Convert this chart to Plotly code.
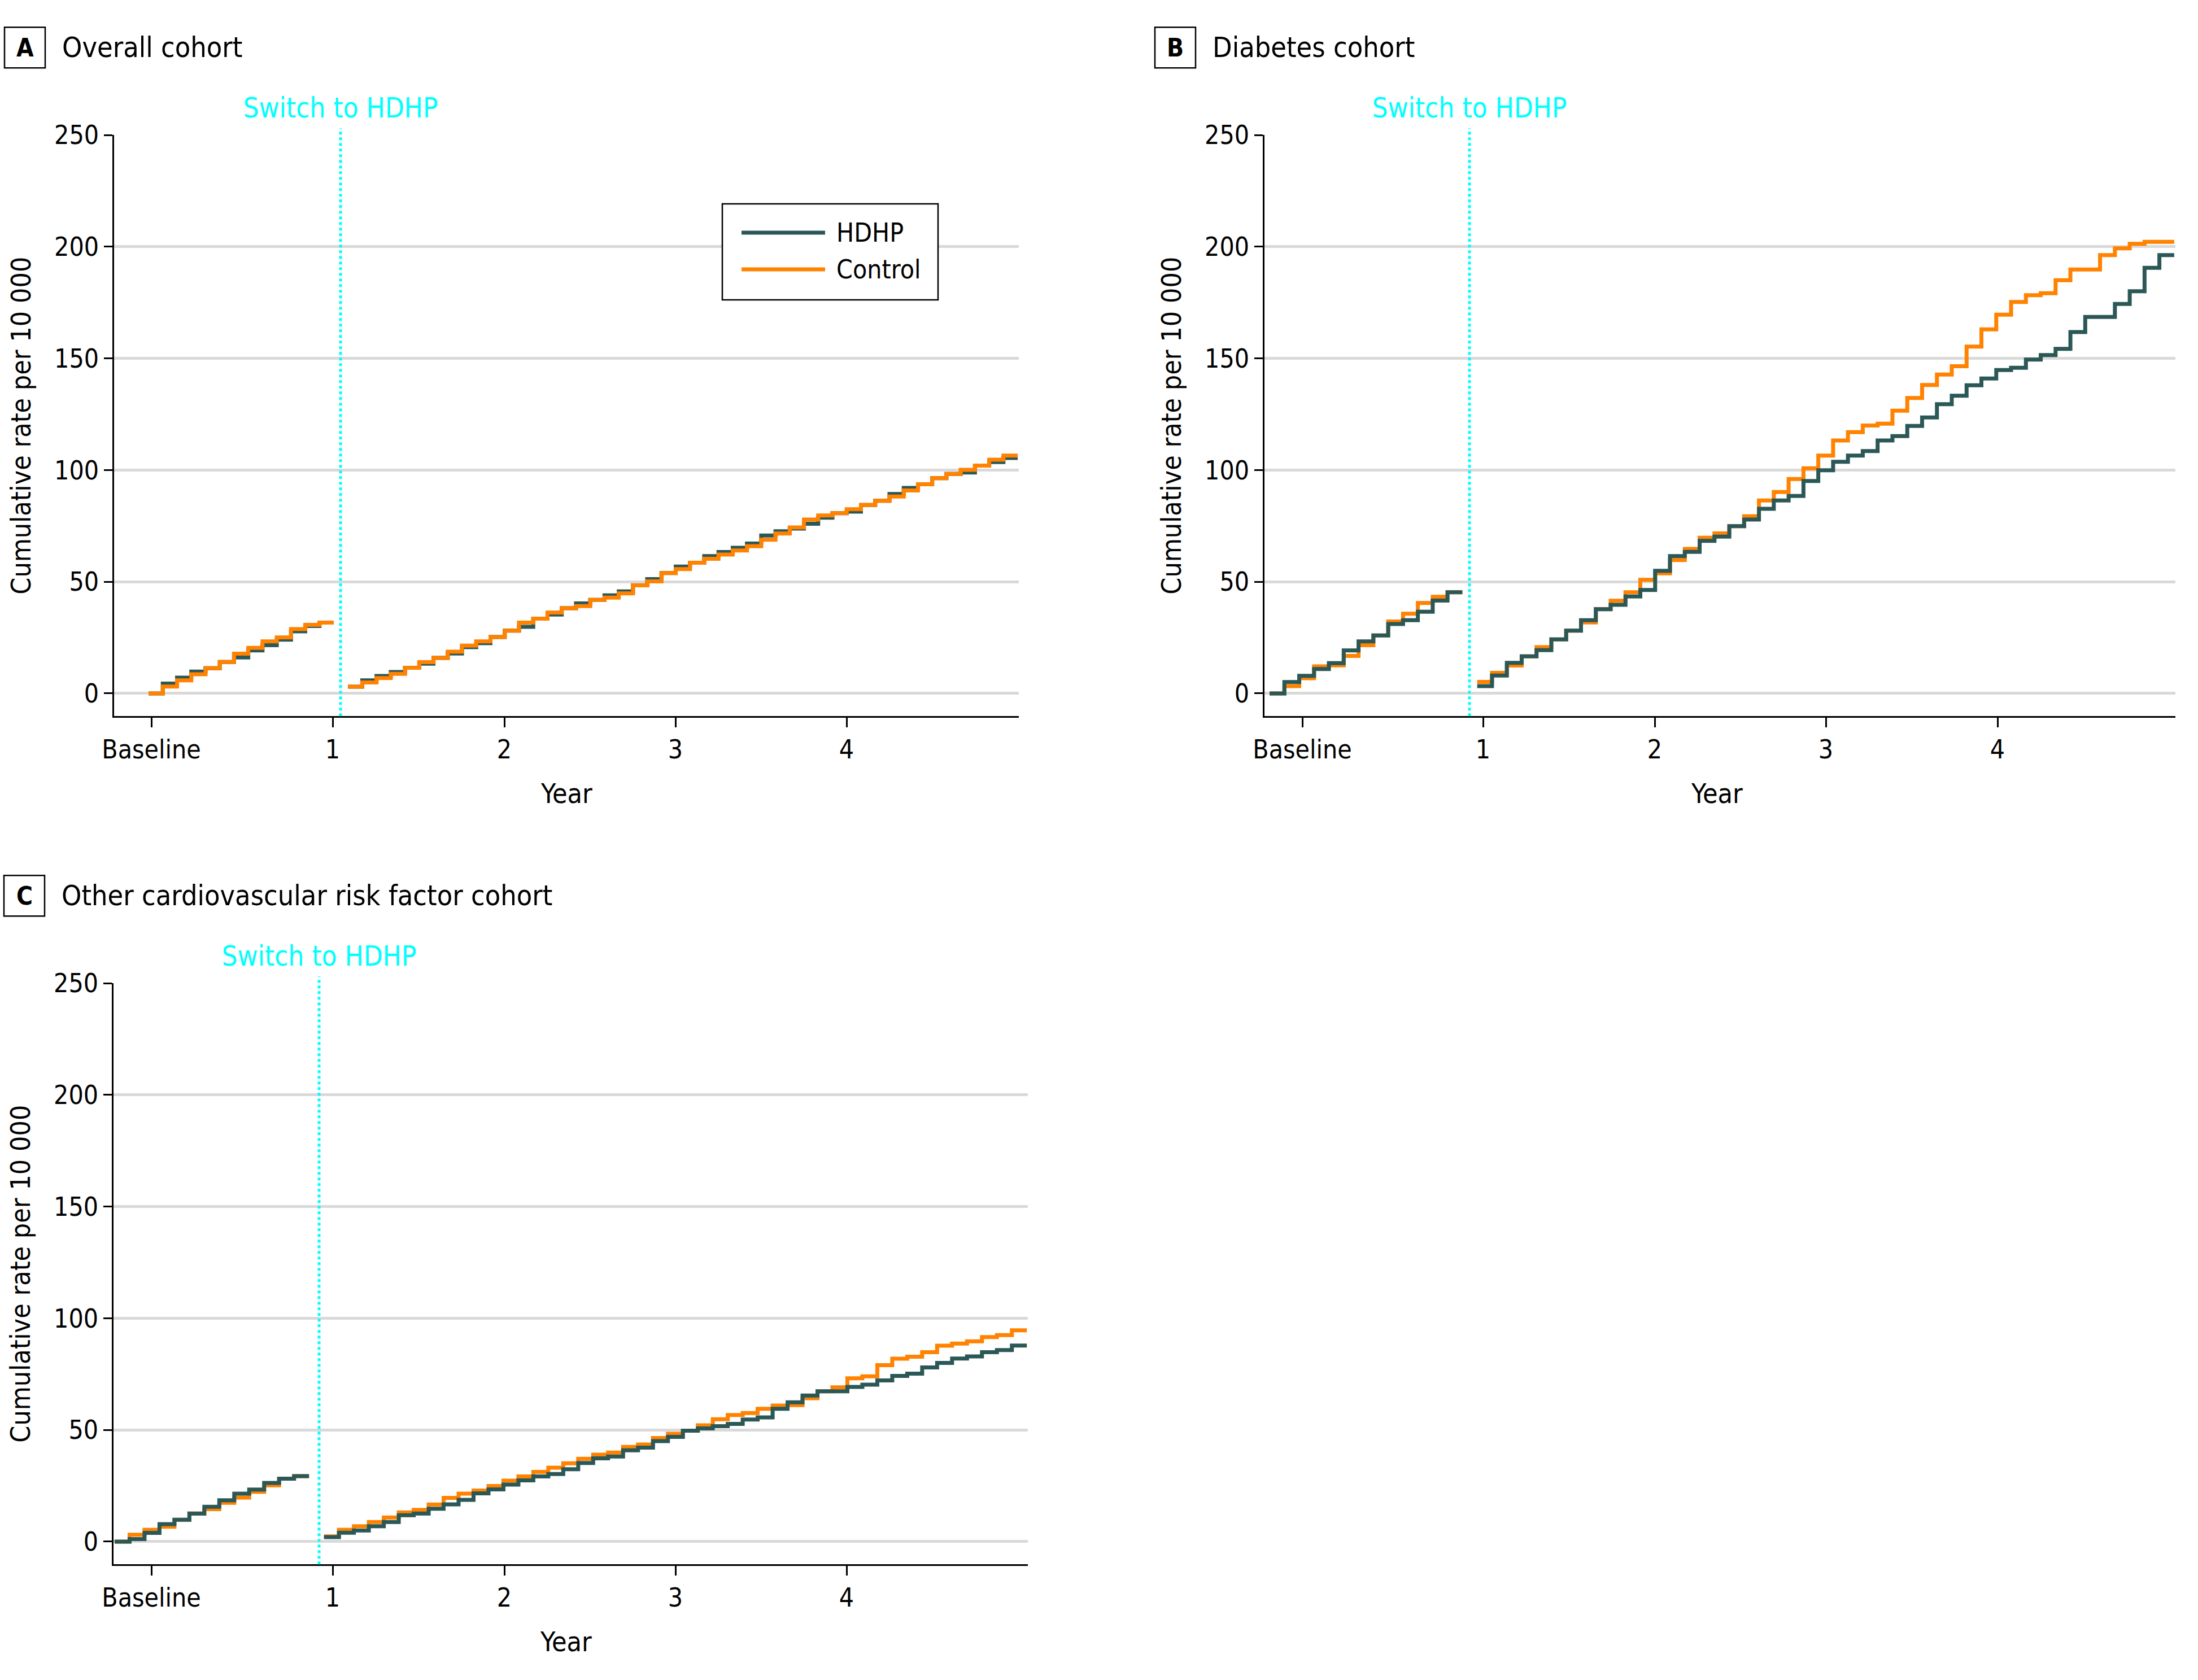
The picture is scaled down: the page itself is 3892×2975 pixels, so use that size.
import plotly.graph_objects as go

W, H = 3892, 2975
FONT = "Liberation Sans Narrow, DejaVu Sans Condensed, Liberation Sans, sans-serif"
DARK = "#2b5856"
ORANGE = "#ff8200"
CYAN = "#00ffff"
GRID = "#d9d9d9"

# step edges in months: baseline year, then follow-up after the switch
pre_months = list(range(-13, 1))
post_months = list(range(1, 49))

tick_labels = ["Baseline", "1", "2", "3", "4"]
y_ticks = [0, 50, 100, 150, 200, 250]

# A: overall cohort (cumulative rate per 10 000, one value per monthly step)
a_hdhp_pre = [0, 4.4, 7.1, 9.8, 11.3, 14.1, 16.1, 19.3, 21.6, 24.1, 27.8, 30.2, 31.7]
a_ctrl_pre = [0, 3.1, 5.9, 8.6, 11.3, 14.1, 17.8, 20.4, 23.3, 25.1, 28.8, 30.7, 31.7]
a_hdhp_post = [3.0, 5.9, 7.8, 9.6, 11.5, 13.3, 15.9, 17.9, 20.7, 22.5, 25.3, 28.1, 29.8, 33.5,
               35.3, 38.2, 40.3, 41.9, 43.9, 45.7, 48.4, 51.2, 53.9, 56.8, 58.5, 61.5, 63.3,
               65.2, 67.1, 70.7, 72.6, 73.8, 76.0, 78.7, 80.7, 81.4, 84.4, 86.3, 89.3, 92.0,
               93.7, 96.4, 98.3, 98.9, 102.0, 103.6, 105.4]
a_ctrl_post = [3.0, 4.9, 6.9, 8.8, 11.5, 14.0, 15.9, 18.7, 21.4, 23.3, 25.3, 28.1, 31.7, 33.5,
               36.2, 38.2, 39.1, 41.9, 42.9, 44.8, 48.4, 50.2, 53.9, 55.7, 58.5, 60.3, 62.2,
               64.0, 65.9, 68.8, 71.6, 74.3, 77.9, 79.7, 80.7, 82.5, 84.4, 86.3, 88.2, 90.9,
               93.7, 96.4, 98.3, 100.1, 102.0, 104.7, 106.5]

# B: diabetes cohort
b_hdhp_pre = [0, 5.1, 7.9, 10.9, 13.6, 19.3, 23.3, 26.0, 31.1, 32.8, 36.6, 41.6, 45.3]
b_ctrl_pre = [0, 3.3, 6.8, 12.1, 12.6, 16.8, 21.6, 26.0, 32.2, 35.7, 40.5, 43.3, 45.3]
b_hdhp_post = [3.3, 8.0, 13.7, 16.6, 19.4, 24.2, 28.1, 32.8, 37.7, 39.7, 43.4, 46.3, 54.9, 61.5,
               63.4, 68.3, 70.2, 74.9, 77.9, 82.7, 86.4, 88.4, 95.1, 99.9, 103.7, 106.5, 108.5,
               113.3, 115.2, 119.8, 123.6, 129.5, 133.3, 138.0, 141.0, 144.8, 145.8, 149.5,
               151.5, 154.3, 161.8, 168.6, 168.6, 174.4, 180.1, 190.6, 196.3]
b_ctrl_post = [5.2, 9.2, 12.5, 16.6, 20.7, 24.2, 28.1, 31.8, 37.7, 41.5, 45.3, 50.9, 53.8, 59.7,
               64.7, 69.7, 71.7, 74.9, 79.3, 86.4, 90.2, 96.0, 100.8, 106.5, 113.3, 117.0, 120.0,
               120.8, 126.6, 132.3, 138.1, 142.8, 146.5, 155.3, 163.0, 169.6, 175.3, 178.3,
               179.2, 185.0, 189.8, 189.8, 196.3, 199.3, 201.3, 202.2, 202.2]

# C: other cardiovascular risk factor cohort
c_hdhp_pre = [0, 1.1, 3.9, 7.8, 9.8, 12.6, 15.6, 18.5, 21.5, 23.3, 26.3, 28.2, 29.3]
c_ctrl_pre = [0, 3.1, 5.3, 6.7, 9.8, 12.6, 14.5, 17.4, 19.7, 22.3, 25.2, 28.2, 29.3]
c_hdhp_post = [2.0, 4.0, 5.0, 6.9, 8.8, 11.8, 12.6, 14.7, 16.7, 18.7, 21.6, 23.4, 25.5, 27.4,
               29.2, 30.3, 32.4, 35.2, 37.3, 38.1, 40.9, 42.1, 45.0, 46.9, 49.7, 50.7, 51.7,
               52.7, 54.7, 55.6, 59.5, 62.4, 65.4, 67.3, 67.3, 69.3, 70.3, 72.2, 74.2, 75.2,
               78.0, 80.0, 82.0, 82.9, 84.8, 85.8, 87.8]
c_ctrl_post = [2.3, 5.3, 6.9, 8.8, 10.8, 13.1, 14.2, 16.6, 19.6, 21.5, 22.9, 24.9, 27.3, 29.2,
               31.2, 33.1, 35.1, 37.1, 38.9, 39.9, 42.4, 43.5, 46.4, 48.3, 49.7, 52.1, 54.8,
               56.7, 57.6, 59.5, 60.9, 61.1, 64.2, 67.3, 69.1, 73.1, 74.0, 79.0, 81.9, 82.8,
               84.8, 87.7, 88.7, 89.7, 91.6, 92.5, 94.6]


def fx(x):
    return x / W


def fy(y):
    return 1 - y / H


def steps(values):
    # repeat last value so the final month gets its horizontal run
    return values + [values[-1]]


# pixel layout of each panel: plot box, month->pixel mapping, tick and switch positions
panels = [
    dict(letter="A", title="Overall cohort", ax="", box=(202, 1804, 239.25, 1268.3),
         p0=591, step=25.23, tick_px=[268, 589, 893, 1196, 1499], switch_px=603,
         series=[("HDHP", DARK, a_hdhp_pre, a_hdhp_post), ("Control", ORANGE, a_ctrl_pre, a_ctrl_post)]),
    dict(letter="B", title="Diabetes cohort", ax="2", box=(2239, 3852, 239.25, 1268.3),
         p0=2589.4, step=26.26, tick_px=[2306, 2626, 2930, 3233, 3537], switch_px=2602,
         series=[("Control", ORANGE, b_ctrl_pre, b_ctrl_post), ("HDHP", DARK, b_hdhp_pre, b_hdhp_post)]),
    dict(letter="C", title="Other cardiovascular risk factor cohort", ax="3", box=(201, 1820, 1741.25, 2770.3),
         p0=547.2, step=26.48, tick_px=[268, 589, 893, 1196, 1499], switch_px=565,
         series=[("Control", ORANGE, c_ctrl_pre, c_ctrl_post), ("HDHP", DARK, c_hdhp_pre, c_hdhp_post)]),
]

fig = go.Figure()
shapes = []
annotations = []
layout = {}

for p in panels:
    left, right, top, bottom = p["box"]
    to_m = lambda px, p=p: (px - p["p0"]) / p["step"]
    xname, yname = "x" + p["ax"], "y" + p["ax"]

    for name, color, pre, post in p["series"]:
        for xs, ys in ((pre_months, pre), (post_months, post)):
            fig.add_trace(go.Scatter(
                x=xs, y=steps(ys), mode="lines", line=dict(color=color, width=7, shape="hv"),
                name=name, showlegend=False, xaxis=xname, yaxis=yname, hoverinfo="skip"))

    layout["xaxis" + p["ax"]] = dict(
        domain=[fx(left), fx(right)], range=[to_m(left), to_m(right)], anchor=yname,
        tickvals=[to_m(t) for t in p["tick_px"]], ticktext=tick_labels,
        ticks="outside", ticklen=17, tickwidth=2.5, tickcolor="black",
        showline=True, linecolor="black", linewidth=2.5, showgrid=False, zeroline=False,
        automargin=False, tickfont=dict(size=46, color="black"))
    layout["yaxis" + p["ax"]] = dict(
        domain=[fy(bottom), fy(top)], range=[-10.2, 250], anchor=xname,
        tickvals=y_ticks, ticks="outside", ticklen=15, tickwidth=2.5, tickcolor="black",
        showline=True, linecolor="black", linewidth=2.5, showgrid=True, gridcolor=GRID,
        gridwidth=5, zeroline=False, automargin=False, tickfont=dict(size=46, color="black"))

    # switch marker
    sm = to_m(p["switch_px"])
    shapes.append(dict(type="line", xref=xname, yref="paper", x0=sm, x1=sm,
                       y0=fy(bottom), y1=fy(top - 12),
                       line=dict(color=CYAN, width=5, dash="5px,5px")))
    annotations.append(dict(text="Switch to HDHP", xref="paper", yref="paper",
                            x=fx(p["switch_px"]), y=fy(top - 48), xanchor="center", yanchor="middle",
                            showarrow=False, font=dict(size=49, color=CYAN)))

    # panel letter box and title
    bx = left - 194
    by = top - 191
    shapes.append(dict(type="rect", xref="paper", yref="paper", x0=fx(bx), x1=fx(bx + 72),
                       y0=fy(by + 72), y1=fy(by), line=dict(color="black", width=2.5)))
    annotations.append(dict(text="<b>%s</b>" % p["letter"], xref="paper", yref="paper",
                            x=fx(bx + 36), y=fy(by + 36), xanchor="center", yanchor="middle",
                            showarrow=False, font=dict(size=44, color="black")))
    annotations.append(dict(text=p["title"], xref="paper", yref="paper",
                            x=fx(bx + 100), y=fy(by + 36), xanchor="left", yanchor="middle",
                            showarrow=False, font=dict(size=50, color="black")))

    # axis titles
    annotations.append(dict(text="Cumulative rate per 10 000", xref="paper", yref="paper",
                            x=fx(left - 165), y=fy((top + bottom) / 2), textangle=-90,
                            xanchor="center", yanchor="middle", showarrow=False,
                            font=dict(size=48, color="black")))
    annotations.append(dict(text="Year", xref="paper", yref="paper",
                            x=fx(min(right, 1804 if left < 1000 else 3840) / 2 + left / 2), y=fy(bottom + 137),
                            xanchor="center", yanchor="middle", showarrow=False,
                            font=dict(size=48, color="black")))

# legend box in panel A
shapes.append(dict(type="rect", xref="paper", yref="paper", x0=fx(1279), x1=fx(1661),
                   y0=fy(531), y1=fy(361), line=dict(color="black", width=2.5),
                   fillcolor="white", layer="above"))
for label, color, ly in (("HDHP", DARK, 412), ("Control", ORANGE, 477)):
    shapes.append(dict(type="line", xref="paper", yref="paper", x0=fx(1313), x1=fx(1461),
                       y0=fy(ly), y1=fy(ly), line=dict(color=color, width=7)))
    annotations.append(dict(text=label, xref="paper", yref="paper", x=fx(1479), y=fy(ly),
                            xanchor="left", yanchor="middle", showarrow=False,
                            font=dict(size=46, color="black")))

fig.update_layout(
    width=W, height=H, margin=dict(l=0, r=0, t=0, b=0, autoexpand=False),
    paper_bgcolor="white", plot_bgcolor="white",
    font=dict(family=FONT, color="black"),
    shapes=shapes, annotations=annotations, showlegend=False,
    **layout)

fig.write_html("out.html", post_script="document.body.style.margin='0';",
               config={"displayModeBar": False})
